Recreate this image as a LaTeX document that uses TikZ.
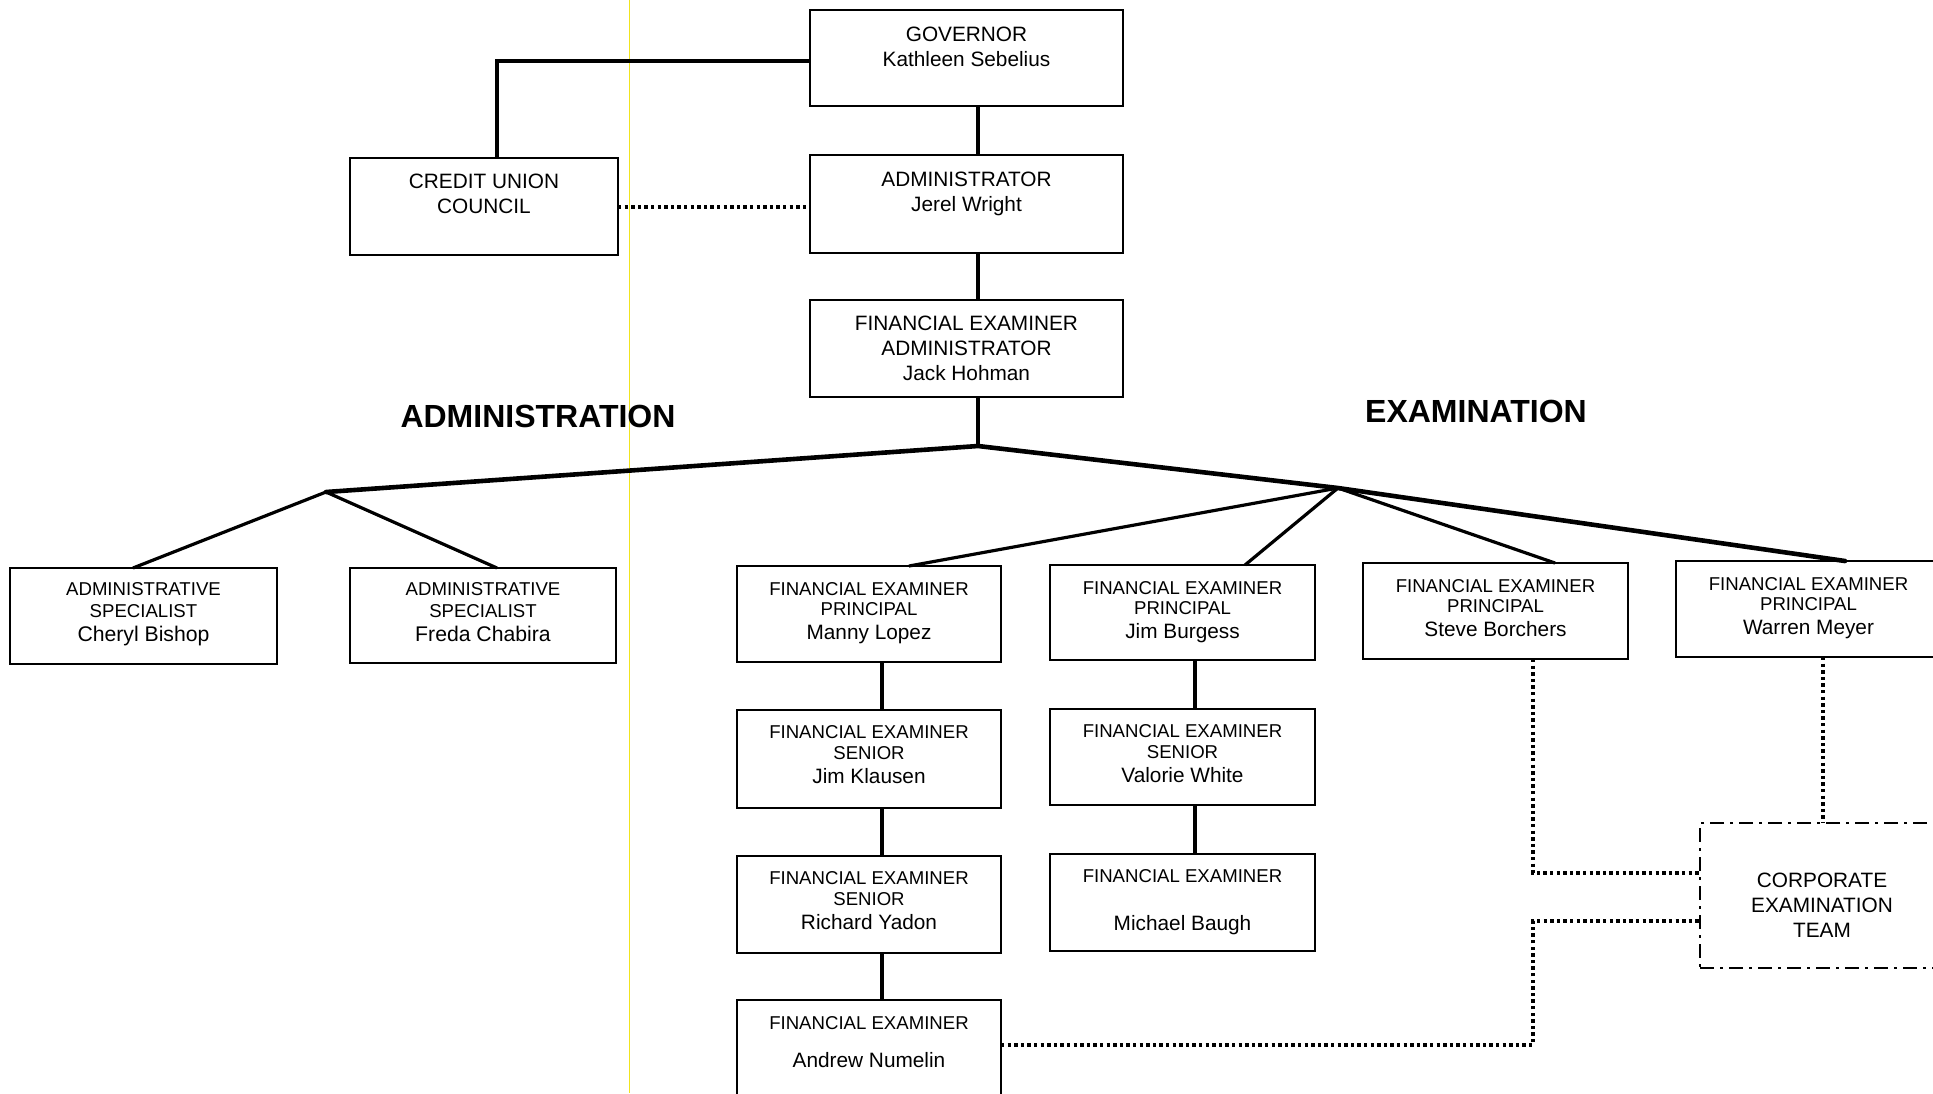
\documentclass[tikz,border=0pt]{standalone}
\usepackage{fontspec}
\setmainfont{Liberation Sans}
\definecolor{scanyellow}{RGB}{240,228,30}
\begin{document}
\begin{tikzpicture}[x=0.5pt, y=-0.5pt,
  obox/.style={draw, line width=1pt, inner sep=0pt, outer sep=0pt},
  txt/.style={anchor=north, inner sep=0pt, align=center, font=\fontsize{10.4}{12.3}\selectfont},
  ttl/.style={anchor=north, inner sep=0pt, align=center, font=\fontsize{9.3}{10.25}\selectfont},
  heading/.style={inner sep=0pt, font=\bfseries\fontsize{16}{19}\selectfont},
  conn/.style={line width=1.6pt},
  trunk/.style={line width=2.3pt, line cap=round, line join=round},
  dotline/.style={line width=2pt, dash pattern=on 1.7pt off 1.6pt},
  dashdotbox/.style={draw, line width=1.3pt, dash pattern=on 7pt off 3pt on 1.5pt off 3pt, inner sep=0pt, outer sep=0pt},
  scanline/.style={draw=scanyellow, line width=0.8pt}]
\useasboundingbox (0,0) rectangle (1933,1093);
\fill[white] (0,0) rectangle (1933,1093);
\draw[scanline] (629.5,0) -- (629.5,1093);

% top boxes
\node[obox, minimum width=156.5pt, minimum height=48pt] (gov) at (966.5,58) {};
\node[obox, minimum width=156.5pt, minimum height=49pt] (adm) at (966.5,204) {};
\node[obox, minimum width=156.5pt, minimum height=48.5pt] (fea) at (966.5,348.5) {};
\node[obox, minimum width=134pt, minimum height=48.5pt] (cu) at (484,206.5) {};

\node[txt] (govt) at ([yshift=-8.5pt]gov.north) {GOVERNOR\\Kathleen Sebelius};
\node[txt] (admt) at ([yshift=-8.5pt]adm.north) {ADMINISTRATOR\\Jerel Wright};
\node[txt] (feat) at ([yshift=-8pt]fea.north) {FINANCIAL EXAMINER\\ADMINISTRATOR\\Jack Hohman};
\node[txt] (cut) at ([yshift=-8pt]cu.north) {CREDIT UNION\\COUNCIL};

% headings
\node[heading] (hadm) at (538,416) {ADMINISTRATION};
\node[heading] (hexa) at (1476,411) {EXAMINATION};

% administration row
\node[obox, minimum width=133.5pt, minimum height=48pt] (as1) at (143.5,616) {};
\node[obox, minimum width=133pt, minimum height=47.5pt] (as2) at (483,615.5) {};
\node[ttl] (as1t) at ([yshift=-7pt]as1.north) {ADMINISTRATIVE\\[0.6pt]SPECIALIST\\[2.2pt]{\fontsize{10.6}{10.25}\selectfont Cheryl Bishop}};
\node[ttl] (as2t) at ([yshift=-7pt]as2.north) {ADMINISTRATIVE\\[0.6pt]SPECIALIST\\[2.2pt]{\fontsize{10.6}{10.25}\selectfont Freda Chabira}};

% principal row
\node[obox, minimum width=132pt, minimum height=48pt] (p1) at (869,614) {};
\node[obox, minimum width=132.5pt, minimum height=47.5pt] (p2) at (1182.5,612.5) {};
\node[obox, minimum width=132.5pt, minimum height=48pt] (p3) at (1495.5,611) {};
\node[obox, minimum width=132.5pt, minimum height=48pt] (p4) at (1808.5,609) {};
\node[ttl] (p1t) at ([yshift=-8pt]p1.north) {FINANCIAL EXAMINER\\PRINCIPAL\\[1.8pt]{\fontsize{10.4}{10.25}\selectfont Manny Lopez}};
\node[ttl] (p2t) at ([yshift=-8pt]p2.north) {FINANCIAL EXAMINER\\PRINCIPAL\\[1.8pt]{\fontsize{10.4}{10.25}\selectfont Jim Burgess}};
\node[ttl] (p3t) at ([yshift=-8pt]p3.north) {FINANCIAL EXAMINER\\PRINCIPAL\\[1.8pt]{\fontsize{10.4}{10.25}\selectfont Steve Borchers}};
\node[ttl] (p4t) at ([yshift=-8pt]p4.north) {FINANCIAL EXAMINER\\PRINCIPAL\\[1.8pt]{\fontsize{10.4}{10.25}\selectfont Warren Meyer}};

% senior rows
\node[obox, minimum width=132pt, minimum height=49pt] (s1) at (869,759) {};
\node[obox, minimum width=132.5pt, minimum height=48pt] (s2) at (1182.5,757) {};
\node[obox, minimum width=132pt, minimum height=48.5pt] (s3) at (869,904.5) {};
\node[obox, minimum width=132.5pt, minimum height=48.5pt] (s4) at (1182.5,902.5) {};
\node[obox, minimum width=132pt, minimum height=50pt] (n1) at (869,1050) {};
\node[ttl] (s1t) at ([yshift=-7.75pt]s1.north) {FINANCIAL EXAMINER\\SENIOR\\[1.8pt]{\fontsize{10.4}{10.25}\selectfont Jim Klausen}};
\node[ttl] (s2t) at ([yshift=-7.75pt]s2.north) {FINANCIAL EXAMINER\\SENIOR\\[1.8pt]{\fontsize{10.4}{10.25}\selectfont Valorie White}};
\node[ttl] (s3t) at ([yshift=-7.75pt]s3.north) {FINANCIAL EXAMINER\\SENIOR\\[1.8pt]{\fontsize{10.4}{10.25}\selectfont Richard Yadon}};
\node[ttl] (s4t) at ([yshift=-7.75pt]s4.north) {FINANCIAL EXAMINER\\[13.75pt]{\fontsize{10.4}{10.25}\selectfont Michael Baugh}};
\node[ttl] (n1t) at ([yshift=-8pt]n1.north) {FINANCIAL EXAMINER\\[9pt]{\fontsize{10.4}{10.25}\selectfont Andrew Numelin}};

% corporate examination team
\node[dashdotbox, minimum width=122pt, minimum height=72.5pt] (cet) at (1822,895.5) {};
\node[txt] (cett) at (1822,873) {CORPORATE\\EXAMINATION\\TEAM};

% hubs
\coordinate (hubm) at (978,446);
\coordinate (huba) at (326,492);
\coordinate (hube) at (1338,488);
\coordinate (jn) at (1533,921);

% solid connectors
\draw[conn] ([xshift=5.75pt]gov.south) -- ([xshift=5.75pt]adm.north);
\draw[conn] ([xshift=5.75pt]adm.south) -- ([xshift=5.75pt]fea.north);
\draw[conn] ([xshift=5.75pt]fea.south) -- (hubm);
\draw[conn] ([yshift=-1.5pt]gov.west) -| ([xshift=6.5pt]cu.north);
\draw[trunk] (huba) -- (hubm) -- (hube) -- ([xshift=18.25pt]p4.north);
\draw[conn] (huba) -- ([xshift=-5.25pt]as1.north);
\draw[conn] (huba) -- ([xshift=7pt]as2.north);
\draw[conn] (hube) -- ([xshift=20pt]p1.north);
\draw[conn] (hube) -- ([xshift=31.25pt]p2.north);
\draw[conn] (hube) -- ([xshift=29.75pt]p3.north);
\draw[conn] ([xshift=6.5pt]p1.south) -- ([xshift=6.5pt]s1.north);
\draw[conn] ([xshift=6.5pt]s1.south) -- ([xshift=6.5pt]s3.north);
\draw[conn] ([xshift=6.5pt]s3.south) -- ([xshift=6.5pt]n1.north);
\draw[conn] ([xshift=6.25pt]p2.south) -- ([xshift=6.25pt]s2.north);
\draw[conn] ([xshift=6.25pt]s2.south) -- ([xshift=6.25pt]s4.north);

% dotted connectors
\draw[dotline] (cu.east) -- (cu.east -| adm.west);
\draw[dotline] ([xshift=18.75pt]p3.south) |- ([yshift=11.25pt]cet.west);
\draw[dotline] ([yshift=2.5pt]n1.east) -| (jn) -- (jn -| cet.west);
\draw[dotline] ([xshift=7.25pt]p4.south) -- ([xshift=7.25pt]p4.south |- cet.north);
\end{tikzpicture}
\end{document}
